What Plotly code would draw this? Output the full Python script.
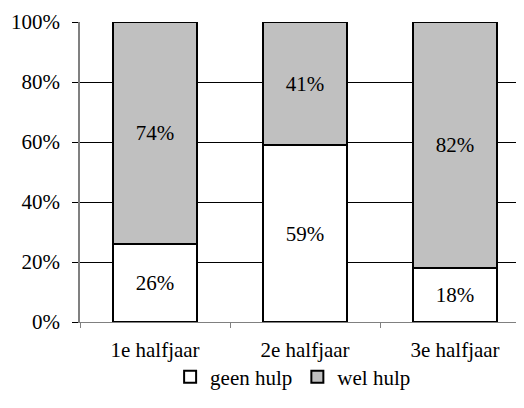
import plotly.graph_objects as go

categories = ["1e halfjaar", "2e halfjaar", "3e halfjaar"]
geen_hulp = [26, 59, 18]
wel_hulp = [74, 41, 82]
y_ticks = [0, 20, 40, 60, 80, 100]
y_tick_labels = ["0%", "20%", "40%", "60%", "80%", "100%"]

FONT = "Liberation Serif"

fig = go.Figure()
fig.add_trace(go.Bar(
    x=categories, y=geen_hulp, name="geen hulp",
    marker=dict(color="#ffffff", line=dict(color="#000000", width=2)),
    text=[f"{v}%" for v in geen_hulp], textposition="inside",
    insidetextanchor="middle", textfont=dict(color="#000000", size=21, family=FONT),
    width=0.56,
))
fig.add_trace(go.Bar(
    x=categories, y=wel_hulp, name="wel hulp",
    marker=dict(color="#c0c0c0", line=dict(color="#000000", width=2)),
    text=[f"{v}%" for v in wel_hulp], textposition="inside",
    insidetextanchor="middle", textfont=dict(color="#000000", size=21, family=FONT),
    width=0.56,
))

fig.update_layout(
    barmode="stack",
    width=516, height=400,
    margin=dict(l=72, r=0, t=14, b=86, autoexpand=False),
    paper_bgcolor="#ffffff", plot_bgcolor="#ffffff",
    font=dict(family=FONT, size=21, color="#000000"),
    showlegend=True,
    legend=dict(orientation="h", x=0.48, xanchor="center", y=-0.115, yanchor="top",
                font=dict(size=21, family=FONT), itemwidth=30, traceorder="normal",
                tracegroupgap=0, bgcolor="rgba(0,0,0,0)"),
    uniformtext=dict(mode=False),
)
fig.update_xaxes(
    range=[-0.5, 2.46], showgrid=False, showline=True, linecolor="#808080", linewidth=1,
    ticks="outside", tickson="boundaries", ticklen=5, tickcolor="#808080",
    ticklabelstandoff=9, zeroline=False,
)
fig.update_yaxes(
    range=[0, 100], tickvals=y_ticks, ticktext=y_tick_labels,
    showgrid=True, gridcolor="#000000", gridwidth=1,
    showline=True, linecolor="#808080", linewidth=1.5,
    ticks="outside", ticklen=6, tickcolor="#000000", zeroline=False,
    ticklabelstandoff=8,
)

fig.write_html("out.html")
